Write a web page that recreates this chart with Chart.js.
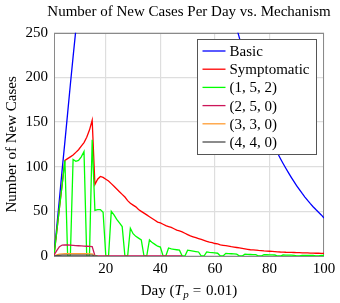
<!DOCTYPE html>
<html>
<head>
<meta charset="utf-8">
<script src="https://cdn.jsdelivr.net/npm/chart.js@4.4.1/dist/chart.umd.min.js"></script>
<style>
  html, body { margin: 0; padding: 0; background: #fff; }
  #wrap { width: 340px; height: 303px; }
</style>
</head>
<body>
<div id="wrap"><canvas id="chart"></canvas></div>
<script>
// Series, one value per day starting at day 1
const chartTitle = 'Number of New Cases Per Day vs. Mechanism';
const seriesNames = ['Basic', 'Symptomatic', '(1, 5, 2)', '(2, 5, 0)', '(3, 3, 0)', '(4, 4, 0)'];
const seriesColors = ['#0000ff', '#ff0000', '#00ff00', '#cc1659', '#ff9c33', '#4d4d4d'];
const xTicks = [20, 40, 60, 80, 100];
const yTicks = [0, 50, 100, 150, 200, 250];

const basic = [
  2, 32, 64, 97, 128, 160, 192, 223, 253, 283,
  312, 340, 367, 393, 418, 442, 465, 487, 507, 526,
  544, 560, 575, 588, 600, 610, 618, 624, 628, 630,
  631, 630, 628, 625, 621, 616, 610, 603, 595, 586,
  576, 565, 554, 542, 530, 517, 504, 491, 478, 465,
  452, 439, 426, 413, 400, 388, 376, 364, 352, 340,
  328, 317, 306, 295, 285, 275, 265, 255, 244, 233,
  222, 211, 200, 190, 180, 170, 160, 151.5, 143, 135,
  127.5, 121, 115, 109.2, 103.6, 98.2, 93, 88, 83.2, 78.6,
  74.2, 70, 66, 62.2, 58.6, 55.2, 52, 49, 46, 42.5
];
const symptomatic = [
  0, 27, 54, 80, 107, 109, 111, 113, 116, 119,
  123, 127, 133, 141, 152, 80, 86, 89, 88, 86,
  84, 81, 78, 75, 72, 69, 66, 62, 59, 57,
  55, 52, 50, 48, 46, 44, 42, 40, 38, 37,
  35.5, 34, 33, 32, 30.5, 29, 28, 27, 25.5, 24,
  22.5, 21.5, 20.5, 19.5, 18.5, 17.5, 16.5, 15.5, 15, 14,
  13.5, 12.5, 12, 11.5, 11, 10.4, 10, 9.5, 9, 8.5,
  8, 7.5, 7, 6.8, 6.5, 6.2, 6, 5.7, 5.5, 5.3,
  5.1, 4.9, 4.7, 4.5, 4.4, 4.2, 4.1, 4, 3.9, 3.8,
  3.7, 3.6, 3.5, 3.4, 3.3, 3.2, 3.1, 3.1, 3, 3
];
const mech152 = [
  1, 27, 54, 80, 107, 0, 0, 108, 106, 107,
  111, 117, 0, 0, 130, 51, 52, 52, 49, 0,
  0, 50, 46, 41, 37, 33, 0, 0, 31, 25,
  22, 20, 18, 0, 0, 18, 15, 13, 11, 10,
  0, 0, 9, 8, 7.5, 7, 6.5, 0, 0, 6.5,
  6, 5.5, 5, 4.5, 0, 0, 4.5, 4, 3.7, 3.4,
  3.1, 0, 0, 3, 2.7, 2.5, 2.3, 2.1, 0, 0,
  2, 1.8, 1.7, 1.6, 1.5, 0, 0, 1.5, 1.4, 1.3,
  1.2, 1.1, 0, 0, 1.1, 1, 0.9, 0.9, 0.8, 0,
  0, 0.8, 0.8, 0.7, 0.7, 0.7, 0, 0, 0.6, 0.6
];
const mech250 = [
  1, 6, 10.5, 12.3, 12.5, 12.3, 12.1, 11.9, 11.7, 11.5,
  11.3, 11.1, 10.9, 10.7, 10.5, 0.3, 0, 0, 0, 0,
  0, 0, 0, 0, 0, 0, 0, 0, 0, 0,
  0, 0, 0, 0, 0, 0, 0, 0, 0, 0,
  0, 0, 0, 0, 0, 0, 0, 0
];
const mech330 = [0.2, 1.2, 2.1, 2.4, 2.5, 2.5, 2.5, 2.5, 2.5, 2.5, 2.5, 2.5, 2.5, 2.4, 2.4, 0, 0];
const mech440 = [0, 0.4, 0.8, 0.9, 1, 1, 1, 1, 1, 1, 1, 1, 1, 1, 1, 0, 0];

const allSeries = [basic, symptomatic, mech152, mech250, mech330, mech440];

const FONT = 'Liberation Serif';
Chart.defaults.font.family = FONT;
Chart.defaults.font.size = 15;
Chart.defaults.color = '#000';

const datasets = allSeries.map((values, i) => ({
  label: seriesNames[i],
  data: values.map((v, d) => ({ x: d + 1, y: v })),
  borderColor: seriesColors[i],
  backgroundColor: seriesColors[i],
  borderWidth: 1.3,
  pointRadius: 0,
  tension: 0,
  fill: false,
  order: allSeries.length - 1 - i  // later series drawn on top
}));

// frame, title, legend box and x axis title (T with subscript p)
const overlay = {
  id: 'overlay',
  beforeDatasetsDraw(chart) {
    const { ctx, chartArea: a } = chart;
    ctx.save();
    ctx.strokeStyle = '#8a8a8a';
    ctx.lineWidth = 1;
    ctx.strokeRect(Math.round(a.left) + 0.5, Math.round(a.top) + 0.5,
      Math.round(a.right - a.left) - 1, Math.round(a.bottom - a.top));
    ctx.restore();
  },
  afterDraw(chart) {
    const { ctx, chartArea: a } = chart;
    const cx = (a.left + a.right) / 2;
    ctx.save();

    // title, centred over the plot, may run wider than it
    ctx.font = '15px "' + FONT + '"';
    ctx.fillStyle = '#000';
    ctx.textAlign = 'center';
    ctx.textBaseline = 'alphabetic';
    ctx.fillText(chartTitle, cx, a.top - 16.5);

    // legend
    const boxW = 119, boxH = 115;
    const bx = Math.round(a.right - 8 - boxW) + 0.5;
    const by = Math.round(a.top + 6.5) + 0.5;
    ctx.fillStyle = '#fff';
    ctx.fillRect(bx, by, boxW, boxH);
    ctx.strokeStyle = '#555';
    ctx.lineWidth = 1;
    ctx.strokeRect(bx, by, boxW, boxH);
    ctx.textBaseline = 'middle';
    ctx.textAlign = 'left';
    chart.data.datasets.forEach((ds, i) => {
      const yy = by + 11.5 + i * 18.2;
      ctx.strokeStyle = ds.borderColor;
      ctx.lineWidth = 1.3;
      ctx.beginPath();
      ctx.moveTo(bx + 5, yy);
      ctx.lineTo(bx + 28, yy);
      ctx.stroke();
      ctx.fillStyle = '#000';
      ctx.fillText(ds.label, bx + 32, yy + 1);
    });

    // x axis title: Day (T_p = 0.01)
    const parts = [
      { t: 'Day (', f: '15px "' + FONT + '"', dy: 0, gap: 0 },
      { t: 'T', f: 'italic 15px "' + FONT + '"', dy: 0, gap: 0.5 },
      { t: 'p', f: 'italic 11px "' + FONT + '"', dy: 3, gap: 4 },
      { t: '=', f: '15px "' + FONT + '"', dy: 0, gap: 1 },
      { t: ' 0.01)', f: '15px "' + FONT + '"', dy: 0, gap: 0 }
    ];
    let total = 0;
    parts.forEach(p => { ctx.font = p.f; p.w = ctx.measureText(p.t).width; total += p.w + p.gap; });
    let x = cx - total / 2;
    const base = a.bottom + 38.5;
    ctx.textBaseline = 'alphabetic';
    ctx.fillStyle = '#000';
    parts.forEach(p => {
      ctx.font = p.f;
      ctx.fillText(p.t, x, base + p.dy);
      x += p.w + p.gap;
    });
    ctx.restore();
  }
};

new Chart(document.getElementById('chart'), {
  type: 'line',
  data: { datasets },
  options: {
    responsive: true,
    maintainAspectRatio: false,
    animation: false,
    devicePixelRatio: 1,
    layout: { padding: { left: 0, right: 16, top: 32.7, bottom: 0 } },
    plugins: {
      legend: { display: false },
      tooltip: { enabled: false },
      title: { display: false }
    },
    scales: {
      x: {
        type: 'linear',
        min: 1,
        max: 100,
        afterBuildTicks: s => { s.ticks = xTicks.map(v => ({ value: v })); },
        afterFit: s => { s.height = 47; },
        ticks: { padding: 4, maxRotation: 0, autoSkip: false },
        grid: { color: '#dedede', lineWidth: 1.2, drawTicks: false },
        border: { display: false }
      },
      y: {
        min: 0,
        max: 250,
        afterBuildTicks: s => { s.ticks = yTicks.map(v => ({ value: v })); },
        afterFit: s => { s.width = 54; },
        ticks: { padding: 6 },
        grid: { color: '#dedede', lineWidth: 1.2, drawTicks: false },
        border: { display: false },
        title: {
          display: true,
          text: 'Number of New Cases',
          color: '#000',
          padding: { top: 3, bottom: 0 }
        }
      }
    }
  },
  plugins: [overlay]
});
</script>
</body>
</html>
